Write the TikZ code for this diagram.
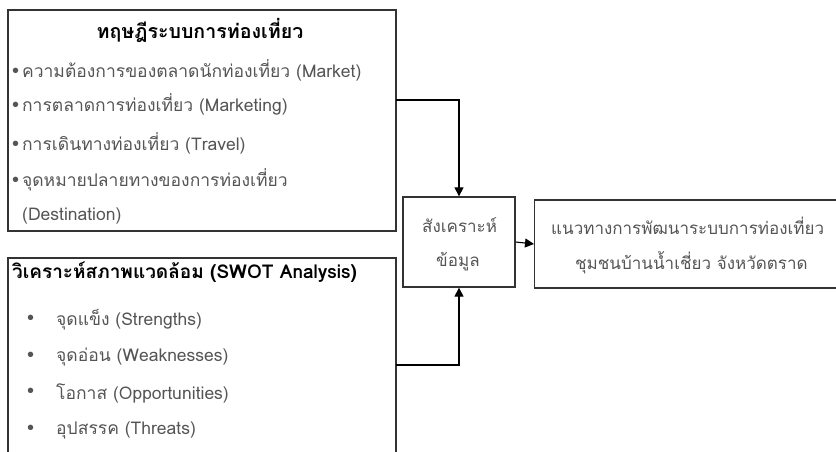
\documentclass[tikz,border=0pt]{standalone}
\usepackage{fontspec}
\setmainfont{Liberation Sans}
\newfontfamily\thai[Script=Thai]{Loma}
\newfontfamily\bul{Liberation Sans}
\usetikzlibrary{arrows.meta}
\definecolor{txtgray}{HTML}{555555}
\definecolor{linegray}{HTML}{333333}
\tikzset{
  box/.style={draw=linegray, line width=1.3pt},
  conn/.style={draw=black, line width=1.1pt},
  arr/.style={conn, -{Triangle[length=9pt,width=9pt]}},
  itm/.style={anchor=west, inner sep=0pt, text=txtgray, font=\thai\fontsize{17.5}{20}\selectfont},
  ttl/.style={inner sep=0pt, text=black, font=\thai\bfseries\fontsize{19}{22}\selectfont},
  mid/.style={anchor=west, inner sep=0pt, text=txtgray, font=\thai\fontsize{17}{20}\selectfont},
}
\newcommand{\bb}{{\bul\fontsize{20}{20}\selectfont\textbullet}}
\begin{document}
\begin{tikzpicture}[x=1pt,y=-1pt]
\useasboundingbox (0,0) rectangle (836,452);
\clip (0,0) rectangle (836,452);
% boxes
\draw[box] (8,10) rectangle (396,231);
\draw[box] (8,258) rectangle (396,470);
\node[box, minimum width=112pt, minimum height=90pt, inner sep=0pt] (syn) at (459,242) {};
\node[box, minimum width=320pt, minimum height=88pt, inner sep=0pt, anchor=west] (res) at (534,244) {};
\node[mid] (synt1) at (422,225) {สังเคราะห์};
\node[mid] (synt2) at (436,262) {ข้อมูล};
\node[mid] (rest1) at (551,226) {แนวทางการพัฒนาระบบการท่องเที่ยว};
\node[mid] (rest2) at (575,263) {ชุมชนบ้านน้ำเชี่ยว จังหวัดตราด};
% box 1 text
\node[ttl, font=\thai\bfseries\fontsize{19.6}{22}\selectfont] (t1) at (200,30) {ทฤษฎีระบบการท่องเที่ยว};
\node[itm] (a1) at (12,70) {\bb\,ความต้องการของตลาดนักท่องเที่ยว (Market)};
\node[itm] (a2) at (12,104) {\bb\,การตลาดการท่องเที่ยว (Marketing)};
\node[itm] (a3) at (12,143) {\bb\,การเดินทางท่องเที่ยว (Travel)};
\node[itm] (a4) at (12,180) {\bb\,จุดหมายปลายทางของการท่องเที่ยว};
\node[itm] (a5) at (22,216) {(Destination)};
% box 2 text
\node[ttl, anchor=west] (t2) at (12,272) {วิเคราะห์สภาพแวดล้อม (SWOT Analysis)};
\foreach \y/\t [count=\i] in {320/{จุดแข็ง (Strengths)},357/{จุดอ่อน (Weaknesses)},393/{โอกาส (Opportunities)},430/{อุปสรรค (Threats)}}{
  \node[itm] (b\i) at (27,\y) {\bb};
  \node[itm] (s\i) at (56,\y) {\t};
}
% connectors
\coordinate (c1) at (396,100);
\coordinate (c2) at (396,365);
\draw[arr] (c1) -| (syn.north);
\draw[arr] (c2) -| (syn.south);
\draw[arr] (syn.east) -- (res.west);
\end{tikzpicture}
\end{document}
